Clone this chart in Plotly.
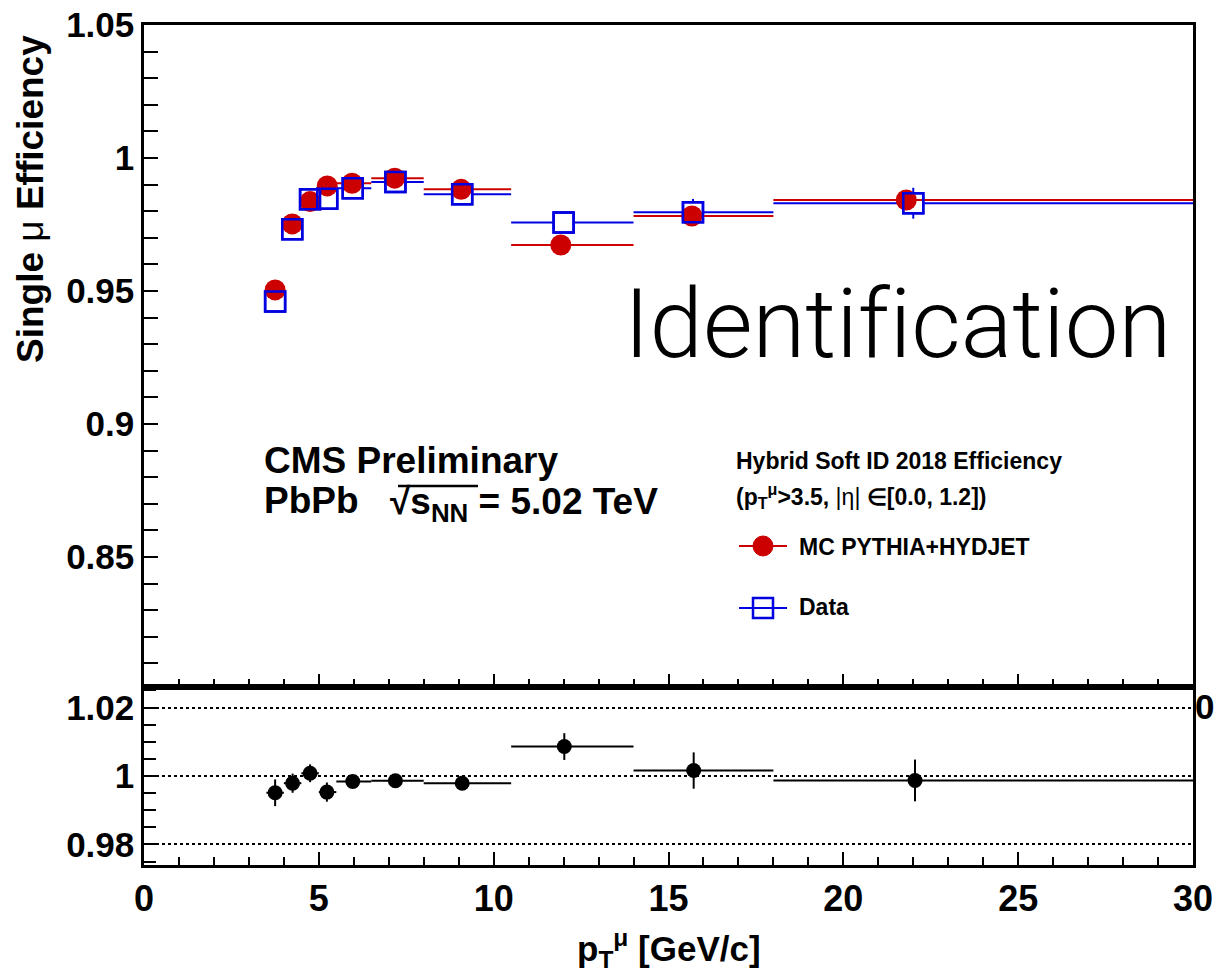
import plotly.graph_objects as go
from plotly.subplots import make_subplots

# ---------------- data ----------------
bin_lo = [3.5, 4.0, 4.5, 5.0, 5.5, 6.5, 8.0, 10.5, 14.0, 18.0]
bin_hi = [4.0, 4.5, 5.0, 5.5, 6.5, 8.0, 10.5, 14.0, 18.0, 30.0]

mc_pt = [3.75, 4.24, 4.75, 5.24, 5.95, 7.17, 9.07, 11.92, 15.67, 21.8]
mc_eff = [0.9504, 0.9752, 0.9836, 0.9895, 0.9905, 0.9924, 0.9882, 0.9673, 0.9782, 0.9842]
mc_err = [0.0008, 0.0006, 0.0005, 0.0005, 0.0004, 0.0004, 0.0004, 0.0006, 0.0008, 0.0008]

data_pt = [3.75, 4.24, 4.75, 5.24, 5.97, 7.19, 9.10, 12.00, 15.70, 22.00]
data_eff = [0.9460, 0.9732, 0.9845, 0.9847, 0.9886, 0.9910, 0.9864, 0.9757, 0.9796, 0.9830]
data_err = [0.0037, 0.0027, 0.0025, 0.0027, 0.0012, 0.0010, 0.0012, 0.0037, 0.0050, 0.0058]

ratio_pt = [3.75, 4.25, 4.75, 5.23, 5.97, 7.19, 9.10, 12.02, 15.72, 22.05]
ratio = [0.9951, 0.9979, 1.0008, 0.9953, 0.9984, 0.9986, 0.9979, 1.0086, 1.0016, 0.9987]
ratio_err = [0.0039, 0.0028, 0.0026, 0.0028, 0.0012, 0.0010, 0.0012, 0.0039, 0.0053, 0.0061]

top_ticks = [0.85, 0.90, 0.95, 1.00, 1.05]
top_ticktext = ["0.85", "0.9", "0.95", "1", "1.05"]
low_ticks = [0.98, 1.00, 1.02]
low_ticktext = ["0.98", "1", "1.02"]

legend_labels = ["MC PYTHIA+HYDJET", "Data"]

# ---------------- geometry helpers ----------------
W, H = 1217, 974
ML, MR, MT, MB = 144, 24, 25, 109
PW, PH = W - ML - MR, H - MT - MB
def px(x):
    return (x - ML) / PW
def py(y):
    return (H - MB - y) / PH

split = py(687)

RED = "#cc0000"
BLUE = "#0000e0"
FONT = "Liberation Sans"

def xerr(pts):
    plus = [h - p for h, p in zip(bin_hi, pts)]
    minus = [p - l for l, p in zip(bin_lo, pts)]
    return plus, minus

fig = make_subplots(rows=2, cols=1, shared_xaxes=False, vertical_spacing=0,
                    row_heights=[1 - split, split])

# Data: error bars + white-filled squares underneath
dp, dm = xerr(data_pt)
fig.add_trace(go.Scatter(
    x=data_pt, y=data_eff, mode="markers", showlegend=False,
    marker=dict(symbol="square", size=20, color="white", line=dict(color=BLUE, width=2.5)),
    error_x=dict(type="data", symmetric=False, array=dp, arrayminus=dm, width=0, thickness=2, color=BLUE),
    error_y=dict(type="data", array=data_err, width=0, thickness=2, color=BLUE),
), row=1, col=1)

# MC
mp, mm = xerr(mc_pt)
fig.add_trace(go.Scatter(
    x=mc_pt, y=mc_eff, mode="markers", name=legend_labels[0], showlegend=False,
    marker=dict(symbol="circle", size=21, color=RED, line=dict(width=0)),
    error_x=dict(type="data", symmetric=False, array=mp, arrayminus=mm, width=0, thickness=2, color=RED),
    error_y=dict(type="data", array=mc_err, width=0, thickness=2, color=RED),
), row=1, col=1)

# Data open square outline on top
fig.add_trace(go.Scatter(
    x=data_pt, y=data_eff, mode="markers", name=legend_labels[1], showlegend=False,
    marker=dict(symbol="square-open", size=20, color=BLUE, line=dict(color=BLUE, width=2.5)),
), row=1, col=1)

# Ratio
rp, rm = xerr(ratio_pt)
fig.add_trace(go.Scatter(
    x=ratio_pt, y=ratio, mode="markers", showlegend=False,
    marker=dict(symbol="circle", size=15, color="black"),
    error_x=dict(type="data", symmetric=False, array=rp, arrayminus=rm, width=0, thickness=2, color="black"),
    error_y=dict(type="data", array=ratio_err, width=0, thickness=2, color="black"),
), row=2, col=1)

tickfont = dict(family=FONT, size=35, color="black", weight="bold")
axis_common = dict(showline=True, linecolor="black", linewidth=2.5, mirror=True, automargin=False,
                   ticks="inside", tickcolor="black", tickwidth=1.5, zeroline=False)

fig.update_xaxes(range=[0, 30], tickmode="linear", tick0=0, dtick=5, ticklen=13,
                 showticklabels=False, showgrid=False,
                 minor=dict(dtick=1, ticklen=8, ticks="inside", tickcolor="black", tickwidth=1.5),
                 **axis_common, row=1, col=1)
fig.update_xaxes(range=[0, 30], tickmode="linear", tick0=0, dtick=5, ticklen=13,
                 showticklabels=True, tickfont=dict(family=FONT, size=36, color="black", weight="bold"),
                 showgrid=False,
                 minor=dict(dtick=1, ticklen=8, ticks="inside", tickcolor="black", tickwidth=1.5),
                 **axis_common, row=2, col=1)
fig.update_yaxes(range=[0.8011, 1.05], tickmode="array", tickvals=top_ticks, ticktext=top_ticktext,
                 ticklen=14, tickfont=tickfont, showgrid=False,
                 minor=dict(tickmode="linear", tick0=0.8, dtick=0.01, ticklen=14, ticks="inside",
                            tickcolor="black", tickwidth=1.5),
                 **axis_common, row=1, col=1)
fig.update_yaxes(range=[0.974, 1.026], tickmode="array", tickvals=low_ticks, ticktext=low_ticktext,
                 ticklen=12, tickfont=tickfont, showgrid=True, gridcolor="black", gridwidth=1.5,
                 griddash="dot",
                 minor=dict(tickmode="linear", tick0=0.98, dtick=0.005, ticklen=12, ticks="inside",
                            tickcolor="black", tickwidth=1.5, showgrid=False),
                 **axis_common, row=2, col=1)

LEG = 23
annots = [
    dict(text="<b>Single</b> μ <b>Efficiency</b>", x=px(30), y=py(199), textangle=-90,
         font=dict(family=FONT, size=37, color="black")),
    dict(text="<b>p<sub>T</sub><sup>μ</sup> [GeV/c]</b>", x=px(669), y=py(948),
         font=dict(family=FONT, size=35, color="black")),
    dict(text="Identif\u200cication", x=px(622), y=py(324), xanchor="left",
         font=dict(family="Roboto", size=96, color="black", weight=300)),
    dict(text="<b>CMS Preliminary</b>", x=px(262), y=py(461), xanchor="left",
         font=dict(family=FONT, size=37, color="black")),
    dict(text="<b>PbPb</b>", x=px(262), y=py(500), xanchor="left",
         font=dict(family=FONT, size=37, color="black")),
    dict(text="<b>√s<sub>NN</sub> = 5.02 TeV</b>", x=px(388), y=py(504), xanchor="left",
         font=dict(family=FONT, size=37, color="black")),
    dict(text="<b>0</b>", x=px(1204), y=py(706),
         font=dict(family=FONT, size=35, color="black")),
    # legend header
    dict(text="<b>Hybrid Soft ID 2018 Efficiency</b>", x=px(734), y=py(461), xanchor="left",
         font=dict(family=FONT, size=LEG, color="black")),
    dict(text="<b>(p<sub>T</sub><sup>μ</sup>&gt;3.5, </b>|η|<b> ∈[0.0, 1.2])</b>", x=px(734), y=py(496),
         xanchor="left", font=dict(family=FONT, size=LEG, color="black")),
    dict(text="<b>" + legend_labels[0] + "</b>", x=px(797), y=py(547), xanchor="left",
         font=dict(family=FONT, size=LEG, color="black")),
    dict(text="<b>" + legend_labels[1] + "</b>", x=px(797), y=py(607), xanchor="left",
         font=dict(family=FONT, size=LEG, color="black")),
]
for a in annots:
    a.update(xref="paper", yref="paper", showarrow=False)
    a.setdefault("xanchor", "center")
    a.setdefault("yanchor", "middle")

shapes = [
    # sqrt overline
    dict(type="line", x0=px(398), x1=px(478), y0=py(486), y1=py(486),
         line=dict(color="black", width=2.5)),
    # legend symbols
    dict(type="line", x0=px(739), x1=px(787), y0=py(546), y1=py(546), line=dict(color=RED, width=2)),
    dict(type="circle", x0=px(753), x1=px(773), y0=py(556), y1=py(536),
         fillcolor=RED, line=dict(color=RED, width=1)),
    dict(type="line", x0=px(739), x1=px(787), y0=py(608), y1=py(608), line=dict(color=BLUE, width=2)),
    dict(type="rect", x0=px(753), x1=px(773), y0=py(618), y1=py(598),
         fillcolor="rgba(0,0,0,0)", line=dict(color=BLUE, width=2.5)),
]
for s in shapes:
    s.update(xref="paper", yref="paper")

fig.update_layout(
    width=W, height=H,
    margin=dict(l=ML, r=MR, t=MT, b=MB, autoexpand=False),
    paper_bgcolor="white", plot_bgcolor="white",
    annotations=annots, shapes=shapes,
    showlegend=False,
)

fig.write_html("out.html")
